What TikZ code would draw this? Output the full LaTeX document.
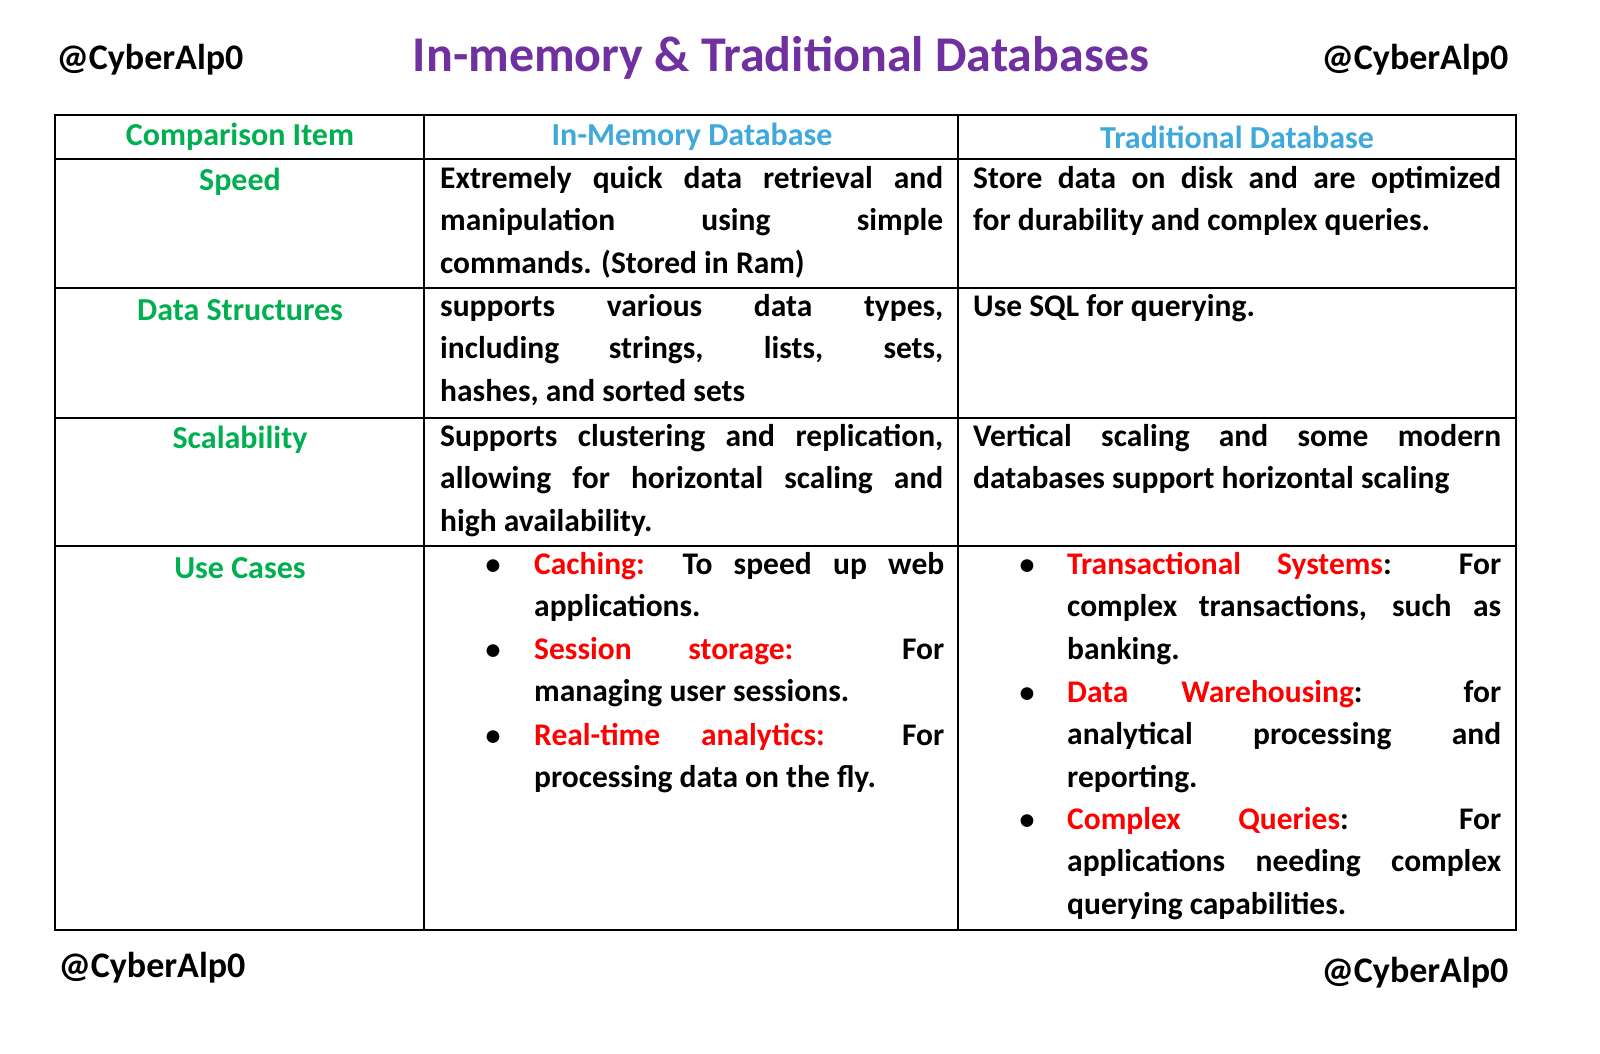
\documentclass[tikz,border=0pt]{standalone}
\usepackage{fontspec}
\setmainfont{Carlito}
\definecolor{cgreen}{HTML}{00B050}
\definecolor{cblue}{HTML}{3FA9DC}
\definecolor{cred}{HTML}{FF0000}
\definecolor{cpurple}{HTML}{7030A0}
\begin{document}
\hyphenpenalty=10000 \exhyphenpenalty=10000
\begin{tikzpicture}[x=1pt,y=-1pt,
  txt/.style={anchor=north west,inner sep=0pt,align=justify,font=\fontsize{31.5}{42.5}\selectfont\bfseries},
  hd/.style={font=\fontsize{32}{36}\selectfont\bfseries,inner sep=0pt},
  handle/.style={font=\fontsize{36}{40}\selectfont\bfseries,inner sep=0pt},
  bul/.style={inner sep=0pt,font=\fontsize{30}{42.5}\selectfont\bfseries}]
\useasboundingbox (0,0) rectangle (1600,1053);
\fill[white] (0,0) rectangle (1600,1053);
\node[handle] (h1) at (150,60) {@CyberAlp0};
\node[handle] (h2) at (1415,60) {@CyberAlp0};
\node[handle] (h3) at (152,968) {@CyberAlp0};
\node[handle] (h4) at (1415,973) {@CyberAlp0};
\node[font=\fontsize{50}{54}\selectfont\bfseries,text=cpurple,inner sep=0pt] (title) at (781,58) {In-memory \& Traditional Databases};
% grid
\draw[line width=1.3pt] (55,115) rectangle (1516,930);
\foreach \y in {159,288,418,546} \draw[line width=1.3pt] (55,\y) -- (1516,\y);
\foreach \x in {424,958} \draw[line width=1.3pt] (\x,115) -- (\x,930);
% headers
\node[hd,text=cgreen] (c1) at (240,137) {Comparison Item};
\node[hd,text=cblue] (c2) at (692,137) {In-Memory Database};
\node[hd,text=cblue] (c3) at (1237,137) {Traditional Database};
\node[hd,text=cgreen] (r1) at (240,182) {Speed};
\node[hd,text=cgreen] (r2) at (240,310) {Data Structures};
\node[hd,text=cgreen] (r3) at (240,440) {Scalability};
\node[hd,text=cgreen] (r4) at (240,568) {Use Cases};
% cells
\node[txt,text width=503pt] (a1) at (440,166) {Extremely quick data retrieval and\linebreak manipulation using simple\linebreak commands. (Stored in Ram)};
\node[txt,text width=528pt] (b1) at (973,166) {Store data on disk and are optimized\linebreak for durability and complex queries.};
\node[txt,text width=503pt] (a2) at (440,294) {supports various data types,\linebreak including strings, lists, sets,\linebreak hashes, and sorted sets};
\node[txt,text width=528pt] (b2) at (973,294) {Use SQL for querying.};
\node[txt,text width=503pt] (a3) at (440,424) {Supports clustering and replication,\linebreak allowing for horizontal scaling and\linebreak high availability.};
\node[txt,text width=528pt] (b3) at (973,424) {Vertical scaling and some modern\linebreak databases support horizontal scaling};
% bullets col 2
\node[txt,text width=410pt] (a41) at (534,552) {\textcolor{cred}{Caching:} To speed up web\linebreak applications.};
\node[txt,text width=410pt] (a42) at (534,637) {\textcolor{cred}{Session storage:} For\linebreak managing user sessions.};
\node[txt,text width=410pt] (a43) at (534,723) {\textcolor{cred}{Real-time analytics:} For\linebreak processing data on the fly.};
\foreach \y/\n in {567/p1,652/p2,738/p3} \node[bul] (\n) at (493,\y) {\textbullet};
% bullets col 3
\node[txt,text width=434pt] (b41) at (1067,552) {\textcolor{cred}{Transactional Systems}: For\linebreak complex transactions, such as\linebreak banking.};
\node[txt,text width=434pt] (b42) at (1067,680) {\textcolor{cred}{Data Warehousing}: for\linebreak analytical processing and\linebreak reporting.};
\node[txt,text width=434pt] (b43) at (1067,807) {\textcolor{cred}{Complex Queries}: For\linebreak applications needing complex\linebreak querying capabilities.};
\foreach \y/\n in {567/q1,695/q2,822/q3} \node[bul] (\n) at (1027,\y) {\textbullet};
\end{tikzpicture}
\end{document}
